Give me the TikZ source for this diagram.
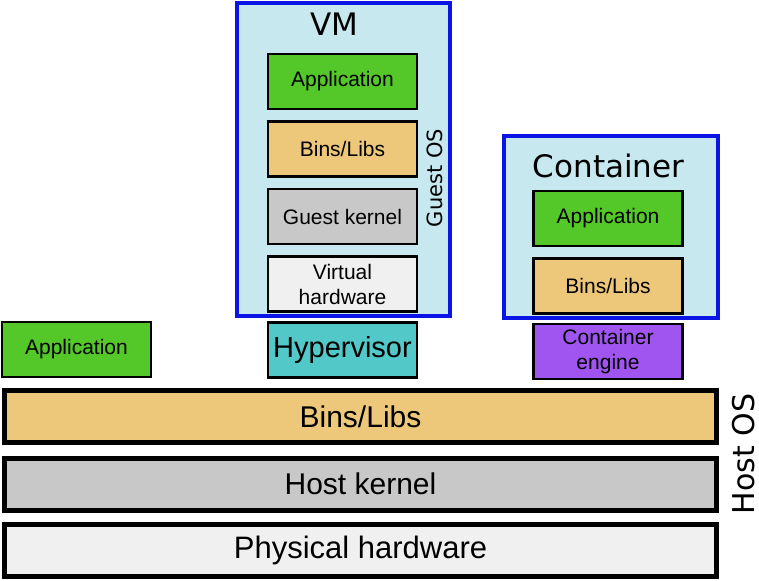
\documentclass[tikz,border=0pt]{standalone}
\usepackage{fontspec}
\setmainfont{Liberation Sans}
\newfontfamily\djv{DejaVu Sans}
\definecolor{d00}{rgb}{0.00, 0.00, 0.00}
\definecolor{d01}{RGB}{84, 200, 41}
\definecolor{d02}{RGB}{238, 200, 122}
\definecolor{d03}{RGB}{200, 200, 200}
\definecolor{d04}{RGB}{240, 240, 240}
\definecolor{d05}{RGB}{82, 200, 200}
\definecolor{d06}{RGB}{160, 85, 240}
\definecolor{d07}{RGB}{198, 232, 238}
\definecolor{d08}{RGB}{10, 20, 228}
\usetikzlibrary{positioning}
\tikzstyle{layer} = [draw=d00, rectangle, minimum width=149pt,
    minimum height=55pt, text centered, inner sep=0pt,
    line width=2.5pt, font=\fontsize{21}{25}\selectfont, align=center]
\tikzstyle{bar} = [draw=d00, rectangle, minimum width=712pt,
    minimum height=52pt, text centered, inner sep=0pt,
    line width=5pt, font=\fontsize{30}{30}\selectfont]
\tikzstyle{frame} = [draw=d08, fill=d07, rectangle, inner sep=0pt,
    line width=4pt]
\tikzstyle{tag} = [inner sep=0pt, font=\djv]

\begin{document}
\begin{tikzpicture}[x=1pt, y=-1pt, node distance=10pt]
     % ><>< =================== ><>< %
     % ><><     Bounding box    ><>< %
     % ><>< =================== ><>< %
     \useasboundingbox (0,0) rectangle (759,580);
     % ><>< =================== ><>< %
     % ><><     Host layers     ><>< %
     % ><>< =================== ><>< %
     \node [bar, fill=d04, font=\fontsize{31}{31}\selectfont] (hw) at (360.5,550.5)
        {Physical hardware};
     \node [bar, fill=d03] (kern) at (360.5,484) {Host kernel};
     \node [bar, fill=d02] (libs) at (360.5,416.5) {Bins/Libs};
     \node [tag, rotate=90, font=\djv\fontsize{30}{30}\selectfont] (hostos)
        at (744,454) {Host OS};
     % ><>< =================== ><>< %
     % ><><   Bare application  ><>< %
     % ><>< =================== ><>< %
     \node [layer, fill=d01] (app00) at (76.5,349.5) {Application};
     % ><>< =================== ><>< %
     % ><><    Virtual machine  ><>< %
     % ><>< =================== ><>< %
     \node [frame, minimum width=213pt, minimum height=313pt] (vm)
        at (343.5,159.5) {};
     \node [tag, font=\djv\fontsize{31}{31}\selectfont] (vmtag) at (334,24) {VM};
     \node [layer, fill=d01] (vmapp) at (342.5,81.5) {Application};
     \node [layer, fill=d02, below=of vmapp] (vmlibs) {Bins/Libs};
     \node [layer, fill=d03, below=of vmlibs] (vmkern) {Guest kernel};
     \node [layer, fill=d04, below=of vmkern] (vmhw) {Virtual\\hardware};
     \node [tag, rotate=90, font=\djv\fontsize{21}{21}\selectfont] (guestos)
        at (435,178) {Guest OS};
     \node [layer, fill=d05, font=\fontsize{29}{29}\selectfont] (hyper)
        at (342.5,350) {Hypervisor};
     % ><>< =================== ><>< %
     % ><><      Container      ><>< %
     % ><>< =================== ><>< %
     \node [frame, minimum width=214pt, minimum height=182pt] (cont)
        at (611,227) {};
     \node [tag, font=\djv\fontsize{31}{31}\selectfont] (conttag)
        at (608.5,166) {Container};
     \node [layer, fill=d01] (capp) at (608,218.5) {Application};
     \node [layer, fill=d02, below=of capp] (clibs) {Bins/Libs};
     \node [layer, fill=d06] (engine) at (608,351.5) {Container\\engine};
  \end{tikzpicture}
\end{document}
